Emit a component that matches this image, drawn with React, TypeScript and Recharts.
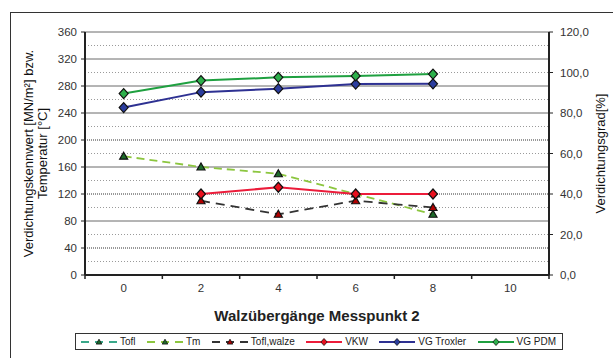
import React from 'react';
import { ComposedChart, Line, XAxis, YAxis, CartesianGrid, Label } from 'recharts';

// Walzübergänge (number of roller passes) at Messpunkt 2
const passes = [0, 2, 4, 6, 8];

// temperatures [°C] and VKW [MN/m²] on the left scale
const tofl: (number | null)[] = [null, null, null, null, null];
const tm: (number | null)[] = [176, 160, 150, 120, 90];
const toflWalze: (number | null)[] = [null, 110, 90, 110, 100];
const vkw: (number | null)[] = [null, 120, 130, 120, 120];

// Verdichtungsgrad [%] on the right scale
const vgTroxler: (number | null)[] = [82.7, 90.3, 92.0, 94.3, 94.4];
const vgPdm: (number | null)[] = [89.6, 96.0, 97.6, 98.3, 99.2];

const xLabels = [0, 2, 4, 6, 8, 10];
const xBounds = [-1, 1, 3, 5, 7, 9, 11];
const leftTicks = [0, 40, 80, 120, 160, 200, 240, 280, 320, 360];
const rightTicks = [0, 20, 40, 60, 80, 100, 120];

const gridSolid = [80, 160, 240, 280, 320, 360];
const gridDense = [40, 120, 200];
const gridFaint = [20, 60, 100, 140, 180, 220, 260, 300, 340];

const data = passes.map((pass, i) => ({
  pass,
  tofl: tofl[i],
  tm: tm[i],
  toflWalze: toflWalze[i],
  vkw: vkw[i],
  vgTroxler: vgTroxler[i],
  vgPdm: vgPdm[i],
}));

type Series = {
  key: string;
  name: string;
  color: string;
  dash?: string;
  width: number;
  marker: 'triangle' | 'diamond';
  markerFill: string;
  axis: string | number;
};

const series: Series[] = [
  { key: 'tofl', name: 'Tofl', color: '#3aa88a', dash: '8 5', width: 1.8, marker: 'triangle', markerFill: '#1d6b2a', axis: 0 },
  { key: 'tm', name: 'Tm', color: '#8cc63f', dash: '8 5', width: 1.8, marker: 'triangle', markerFill: '#1d6b2a', axis: 0 },
  { key: 'toflWalze', name: 'Tofl,walze', color: '#333333', dash: '9 6', width: 1.8, marker: 'triangle', markerFill: '#b00000', axis: 0 },
  { key: 'vkw', name: 'VKW', color: '#ec1c3a', width: 2, marker: 'diamond', markerFill: '#e8101e', axis: 0 },
  { key: 'vgTroxler', name: 'VG Troxler', color: '#2e3192', width: 2, marker: 'diamond', markerFill: '#2b3d9e', axis: 'right' },
  { key: 'vgPdm', name: 'VG PDM', color: '#1fa040', width: 2, marker: 'diamond', markerFill: '#2db04b', axis: 'right' },
];

const FONT = '"Liberation Sans", Arial, sans-serif';

function markerPath(kind: 'triangle' | 'diamond', cx: number, cy: number, s = 1) {
  if (kind === 'triangle') {
    return `M${cx},${cy - 4 * s} L${cx + 4 * s},${cy + 3 * s} L${cx - 4 * s},${cy + 3 * s} Z`;
  }
  return `M${cx},${cy - 5 * s} L${cx + 4.5 * s},${cy} L${cx},${cy + 5 * s} L${cx - 4.5 * s},${cy} Z`;
}

function renderDot(s: Series) {
  return (p: any) => {
    if (p.cx == null || p.cy == null || p.value == null) return <g key={`${s.key}-${p.index}`} />;
    return (
      <path
        key={`${s.key}-${p.index}`}
        d={markerPath(s.marker, p.cx, p.cy)}
        fill={s.markerFill}
        stroke="#111"
        strokeWidth={1.2}
      />
    );
  };
}

// labels at even passes, short tick marks on the category borders
const XTick = (props: any) => {
  const { x, y, payload } = props;
  const v = payload.value;
  if (xLabels.includes(v)) {
    return (
      <text x={x} y={y + 9} dy="0.71em" textAnchor="middle" fill="#333" fontSize={11.5} fontFamily={FONT}>
        {v}
      </text>
    );
  }
  return <line x1={x} x2={x} y1={y} y2={y + 4} stroke="#222" strokeWidth={1.5} />;
};

const LegendIcon = ({ s }: { s: Series }) => (
  <svg width={36} height={10} style={{ display: 'block' }}>
    <line x1={0} x2={36} y1={5} y2={5} stroke={s.color} strokeWidth={2} strokeDasharray={s.dash ? '8 6' : undefined} />
    <path d={markerPath(s.marker, 18, 5, 0.7)} fill={s.markerFill} stroke="#111" strokeWidth={0.8} />
  </svg>
);

export default function App() {
  return (
    <div style={{ position: 'absolute', left: 0, top: 0, width: 613, height: 358, background: '#fff', overflow: 'hidden', fontFamily: FONT }}>
      <div style={{ position: 'absolute', left: 10, top: 12, width: 640, height: 400, borderLeft: '1.5px solid #333', borderTop: '1.5px solid #333' }} />
      <ComposedChart
        width={613}
        height={358}
        data={data}
        margin={{ top: 32, right: 14, left: 25, bottom: 43 }}
        style={{ position: 'absolute', left: 0, top: 0 }}
      >
        <CartesianGrid vertical={false} horizontalValues={gridFaint} stroke="#9a9a9a" strokeDasharray="1 2" />
        <CartesianGrid vertical={false} horizontalValues={gridDense} stroke="#333" strokeDasharray="1 1" />
        <CartesianGrid vertical={false} horizontalValues={gridSolid} stroke="#6a6a6a" />
        <XAxis
          dataKey="pass"
          type="number"
          domain={[-1, 11]}
          ticks={[...xBounds, ...xLabels].sort((a, b) => a - b)}
          interval={0}
          height={40}
          tickLine={false}
          tickSize={0}
          tickMargin={0}
          tick={<XTick />}
          axisLine={{ stroke: '#222', strokeWidth: 2 }}
        >
          <Label
            content={({ viewBox }: any) => (
              <text
                x={viewBox.x + viewBox.width / 2}
                y={viewBox.y + 40}
                textAnchor="middle"
                dominantBaseline="central"
                fontSize={15}
                fontWeight="bold"
                fill="#222"
                fontFamily={FONT}
              >
                Walzübergänge Messpunkt 2
              </text>
            )}
          />
        </XAxis>
        <YAxis
          domain={[0, 360]}
          ticks={leftTicks}
          interval={0}
          width={60}
          tickSize={4}
          tickMargin={4}
          tick={{ fill: '#333', fontSize: 11.5, fontFamily: FONT }}
          tickLine={{ stroke: '#222' }}
          axisLine={{ stroke: '#222', strokeWidth: 2 }}
        >
          <Label
            content={({ viewBox }: any) => {
              const cy = viewBox.y + viewBox.height / 2;
              return (
                <g fontSize={13} fill="#111" fontFamily={FONT}>
                  <text x={viewBox.x + 3} y={cy} textAnchor="middle" dominantBaseline="central" transform={`rotate(-90, ${viewBox.x + 3}, ${cy})`}>
                    Verdichtungskennwert [MN/m²] bzw.
                  </text>
                  <text x={viewBox.x + 17} y={cy} textAnchor="middle" dominantBaseline="central" transform={`rotate(-90, ${viewBox.x + 17}, ${cy})`}>
                    Temperatur [°C]
                  </text>
                </g>
              );
            }}
          />
        </YAxis>
        <YAxis
          yAxisId="right"
          orientation="right"
          domain={[0, 120]}
          ticks={rightTicks}
          interval={0}
          width={50}
          tickSize={4}
          tickMargin={7}
          tickFormatter={(v: number) => v.toFixed(1).replace('.', ',')}
          tick={{ fill: '#333', fontSize: 11.5, fontFamily: FONT }}
          tickLine={{ stroke: '#222' }}
          axisLine={{ stroke: '#222', strokeWidth: 2 }}
        >
          <Label
            content={({ viewBox }: any) => {
              const cx = viewBox.x + 51;
              const cy = viewBox.y + viewBox.height / 2;
              return (
                <text x={cx} y={cy} textAnchor="middle" dominantBaseline="central" transform={`rotate(-90, ${cx}, ${cy})`} fontSize={13} fill="#111" fontFamily={FONT}>
                  Verdichtungsgrad[%]
                </text>
              );
            }}
          />
        </YAxis>
        {series.map((s) => (
          <Line
            key={s.key}
            yAxisId={s.axis}
            dataKey={s.key}
            name={s.name}
            type="linear"
            stroke={s.color}
            strokeWidth={s.width}
            strokeDasharray={s.dash}
            dot={renderDot(s)}
            activeDot={false}
            isAnimationActive={false}
          />
        ))}
      </ComposedChart>
      <div
        style={{
          position: 'absolute',
          left: 75,
          top: 333,
          width: 488,
          height: 17,
          boxSizing: 'border-box',
          border: '1px solid #333',
          background: '#fff',
          display: 'flex',
          alignItems: 'center',
          justifyContent: 'space-between',
          padding: '0 6px 0 5px',
          fontSize: 10,
          color: '#222',
        }}
      >
        {series.map((s) => (
          <div key={s.key} style={{ display: 'flex', alignItems: 'center', gap: 3 }}>
            <LegendIcon s={s} />
            <span>{s.name}</span>
          </div>
        ))}
      </div>
    </div>
  );
}
